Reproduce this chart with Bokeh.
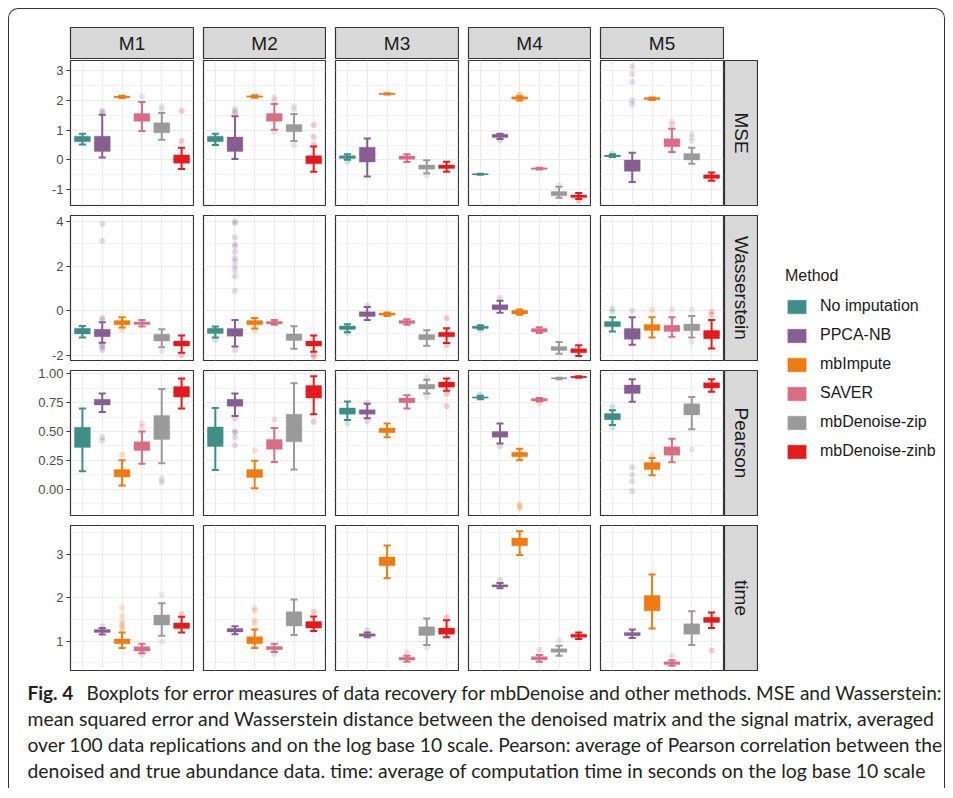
import numpy as np
from bokeh.plotting import figure
from bokeh.models import (ColumnDataSource, Range1d, FixedTicker, Grid, LinearAxis,
                          PrintfTickFormatter, Spacer, Legend, LegendItem)
from bokeh.layouts import row, column
from bokeh.core.properties import value
from bokeh.embed import file_html
from bokeh.resources import INLINE

# ---------------- data ----------------
METHODS = ["No imputation", "PPCA-NB", "mbImpute", "SAVER", "mbDenoise-zip", "mbDenoise-zinb"]
COLORS = ["#3e8e87", "#875e92", "#ef7b12", "#d86e84", "#9a9a9a", "#e41a1c"]
MODELS = ["M1", "M2", "M3", "M4", "M5"]
METRICS = ["MSE", "Wasserstein", "Pearson", "time"]

# each box: [lower whisker, Q1, median, Q3, upper whisker]
MSE_M1 = [[0.52, 0.61, 0.70, 0.80, 0.88], [0.08, 0.28, 0.55, 0.80, 1.52], [2.08, 2.10, 2.12, 2.14, 2.16],
          [0.97, 1.30, 1.42, 1.56, 1.95], [0.68, 0.91, 1.10, 1.25, 1.58], [-0.30, -0.11, 0.03, 0.17, 0.41]]
MSE_M1_OUT = [[], [1.60, 1.64], [], [2.14], [1.70, 1.80], [0.64, 1.64]]
MSE_M2 = [[0.50, 0.61, 0.70, 0.80, 0.88], [0.03, 0.28, 0.52, 0.77, 1.47], [2.09, 2.11, 2.13, 2.15, 2.17],
          [1.01, 1.30, 1.42, 1.56, 1.88], [0.64, 0.95, 1.07, 1.19, 1.54], [-0.40, -0.13, 0.00, 0.14, 0.45]]
MSE_M2_OUT = [[], [1.55, 1.62, 1.70], [], [0.94, 2.00, 2.10], [0.49, 1.70, 1.80], [0.52, 0.77, 1.17]]
MSE_M3 = [[0.01, 0.05, 0.10, 0.14, 0.19], [-0.56, -0.07, 0.20, 0.43, 0.72], [2.20, 2.21, 2.22, 2.23, 2.24],
          [-0.07, 0.02, 0.08, 0.13, 0.19], [-0.45, -0.31, -0.24, -0.17, -0.01], [-0.40, -0.29, -0.23, -0.17, -0.06]]
MSE_M3_OUT = [[-0.06], [], [], [], [-0.51], []]
MSE_M4 = [[-0.50, -0.49, -0.48, -0.47, -0.46], [0.70, 0.75, 0.80, 0.86, 0.88], [2.00, 2.04, 2.08, 2.12, 2.14],
          [-0.32, -0.31, -0.29, -0.27, -0.26], [-1.27, -1.20, -1.13, -1.06, -0.90], [-1.31, -1.26, -1.22, -1.18, -1.11]]
MSE_M4_OUT = [[], [0.66], [2.17, 2.20], [], [-0.85], [-1.37]]
MSE_M5 = [[0.10, 0.11, 0.14, 0.16, 0.19], [-0.74, -0.38, -0.20, 0.00, 0.24], [2.01, 2.03, 2.06, 2.09, 2.10],
          [0.27, 0.44, 0.58, 0.71, 1.05], [-0.13, 0.00, 0.12, 0.22, 0.41], [-0.70, -0.62, -0.56, -0.50, -0.42]]
MSE_M5_OUT = [[0.21], [1.86, 2.00, 2.62, 2.89, 3.14], [], [1.17, 1.28], [0.64, 0.75, 0.87], []]

WAS_M1 = [[-1.20, -1.04, -0.90, -0.78, -0.68], [-1.43, -1.16, -1.00, -0.83, -0.51], [-0.75, -0.63, -0.53, -0.44, -0.29],
          [-0.71, -0.62, -0.56, -0.50, -0.42], [-1.64, -1.36, -1.20, -1.05, -0.83], [-1.88, -1.58, -1.47, -1.36, -1.11]]
WAS_M1_OUT = [[], [3.89, 3.13, -0.33, -0.40, -1.50, -1.57, -1.66, -1.76], [-0.86], [], [-1.81], [-1.99]]
WAS_M2 = [[-1.20, -1.02, -0.90, -0.78, -0.71], [-1.60, -1.14, -0.97, -0.80, -0.42], [-0.80, -0.63, -0.53, -0.44, -0.33],
          [-0.63, -0.59, -0.53, -0.48, -0.42], [-1.70, -1.33, -1.18, -1.04, -0.69], [-1.84, -1.58, -1.47, -1.36, -1.11]]
WAS_M2_OUT = [[-1.31], [0.90, 1.55, 1.82, 2.00, 2.23, 2.35, 2.65, 2.90, 2.98, 3.28, 3.92, 4.00, -1.76], [-0.90], [], [],
              [-1.96, -2.06]]
WAS_M3 = [[-0.96, -0.84, -0.76, -0.68, -0.60], [-0.42, -0.26, -0.15, -0.05, 0.17], [-0.24, -0.20, -0.15, -0.10, -0.08],
          [-0.63, -0.57, -0.50, -0.44, -0.38], [-1.57, -1.30, -1.18, -1.07, -0.87], [-1.45, -1.17, -1.06, -0.96, -0.78]]
WAS_M3_OUT = [[-1.00], [0.23], [], [], [], [-0.32, -1.54]]
WAS_M4 = [[-0.83, -0.79, -0.74, -0.69, -0.65], [-0.09, 0.05, 0.16, 0.27, 0.45], [-0.18, -0.14, -0.06, 0.02, 0.06],
          [-1.00, -0.95, -0.87, -0.80, -0.74], [-1.93, -1.78, -1.69, -1.60, -1.40], [-2.03, -1.88, -1.79, -1.70, -1.55]]
WAS_M4_OUT = [[-0.86], [0.57], [], [], [], []]
WAS_M5 = [[-0.93, -0.72, -0.60, -0.48, -0.29], [-1.52, -1.28, -1.04, -0.80, -0.29], [-1.20, -0.89, -0.75, -0.62, -0.29],
          [-1.16, -0.93, -0.79, -0.65, -0.29], [-1.20, -0.90, -0.74, -0.59, -0.24], [-1.69, -1.25, -1.07, -0.89, -0.41]]
WAS_M5_OUT = [[0.09, -0.03], [0.00], [0.05], [0.05], [0.05, -1.39], [-0.03, -0.18]]

PEA_M1 = [[0.155, 0.36, 0.45, 0.536, 0.70], [0.67, 0.73, 0.755, 0.78, 0.83], [0.03, 0.105, 0.14, 0.17, 0.25],
          [0.22, 0.335, 0.37, 0.41, 0.50], [0.225, 0.43, 0.54, 0.64, 0.87], [0.70, 0.80, 0.84, 0.89, 0.96]]
PEA_M1_OUT = [[], [0.42, 0.45], [0.30], [0.54, 0.57], [0.06, 0.07, 0.095], []]
PEA_M2 = [[0.165, 0.37, 0.46, 0.54, 0.705], [0.635, 0.72, 0.75, 0.78, 0.83], [0.006, 0.10, 0.135, 0.17, 0.245],
          [0.235, 0.345, 0.39, 0.43, 0.53], [0.17, 0.41, 0.53, 0.65, 0.92], [0.65, 0.79, 0.84, 0.90, 0.98]]
PEA_M2_OUT = [[], [0.38, 0.445, 0.49, 0.50, 0.61], [0.335], [0.605], [], [0.585]]
PEA_M3 = [[0.60, 0.65, 0.68, 0.705, 0.76], [0.615, 0.65, 0.67, 0.69, 0.74], [0.45, 0.49, 0.51, 0.53, 0.57],
          [0.70, 0.75, 0.77, 0.79, 0.816], [0.83, 0.87, 0.89, 0.91, 0.95], [0.855, 0.885, 0.91, 0.93, 0.96]]
PEA_M3_OUT = [[0.57], [0.59, 0.75], [], [], [0.80, 0.97], [0.72, 0.825]]
PEA_M4 = [[0.78, 0.79, 0.796, 0.80, 0.81], [0.395, 0.45, 0.475, 0.50, 0.57], [0.25, 0.28, 0.30, 0.32, 0.35],
          [0.76, 0.764, 0.775, 0.787, 0.79], [0.955, 0.958, 0.962, 0.965, 0.968], [0.968, 0.970, 0.974, 0.977, 0.979]]
PEA_M4_OUT = [[0.82], [0.37], [-0.13, -0.15, -0.166], [0.745], [], []]
PEA_M5 = [[0.557, 0.603, 0.63, 0.656, 0.685], [0.758, 0.831, 0.87, 0.904, 0.953], [0.12, 0.17, 0.20, 0.23, 0.27],
          [0.233, 0.294, 0.33, 0.367, 0.437], [0.52, 0.644, 0.69, 0.74, 0.80], [0.845, 0.877, 0.90, 0.924, 0.953]]
PEA_M5_OUT = [[0.534, 0.715], [-0.02, 0.067, 0.125, 0.19], [0.294], [], [0.344], []]

TIME_M1 = [None, [1.15, 1.20, 1.23, 1.27, 1.30], [0.84, 0.94, 1.00, 1.05, 1.20],
           [0.72, 0.77, 0.82, 0.87, 0.94], [1.12, 1.37, 1.50, 1.60, 1.875], [1.20, 1.29, 1.36, 1.42, 1.56]]
TIME_M1_OUT = [[], [1.34], [1.27, 1.33, 1.38, 1.45, 1.59, 1.77], [0.68], [0.99, 2.07], [1.62]]
TIME_M2 = [None, [1.16, 1.21, 1.25, 1.29, 1.34], [0.84, 0.94, 1.02, 1.10, 1.27],
           [0.75, 0.80, 0.84, 0.875, 0.94], [1.14, 1.35, 1.52, 1.68, 1.96], [1.23, 1.30, 1.38, 1.45, 1.57]]
TIME_M2_OUT = [[], [], [1.41, 1.48, 1.70, 1.76], [0.70], [], [1.68]]
TIME_M3 = [None, [1.09, 1.11, 1.14, 1.17, 1.20], [2.45, 2.74, 2.85, 2.945, 3.21],
           [0.52, 0.56, 0.59, 0.625, 0.66], [0.91, 1.13, 1.23, 1.33, 1.52], [1.09, 1.16, 1.23, 1.30, 1.48]]
TIME_M3_OUT = [[], [1.25], [], [0.74], [0.86], [1.55]]
TIME_M4 = [None, [2.22, 2.25, 2.28, 2.30, 2.34], [2.99, 3.20, 3.29, 3.38, 3.54],
           [0.52, 0.57, 0.60, 0.64, 0.68], [0.66, 0.74, 0.78, 0.82, 0.89], [1.05, 1.09, 1.12, 1.16, 1.20]]
TIME_M4_OUT = [[], [2.41], [], [0.80], [1.02], []]
TIME_M5 = [None, [1.07, 1.12, 1.16, 1.20, 1.27], [1.29, 1.70, 1.88, 2.05, 2.54],
           [0.43, 0.46, 0.49, 0.52, 0.555], [0.91, 1.16, 1.28, 1.40, 1.69], [1.30, 1.43, 1.49, 1.55, 1.66]]
TIME_M5_OUT = [[], [], [], [0.66], [], [0.78]]

# axis settings per metric row
Y_LIMITS = {"MSE": (-1.53, 3.34), "Wasserstein": (-2.23, 4.27), "Pearson": (-0.23, 1.03), "time": (0.32, 3.67)}
Y_TICKS = {"MSE": [-1, 0, 1, 2, 3], "Wasserstein": [-2, 0, 2, 4], "Pearson": [0, 0.25, 0.5, 0.75, 1.0], "time": [1, 2, 3]}
Y_MINOR = {"MSE": [-1.5, -0.5, 0.5, 1.5, 2.5], "Wasserstein": [-1, 1, 3],
           "Pearson": [-0.125, 0.125, 0.375, 0.625, 0.875], "time": [0.5, 1.5, 2.5, 3.5]}
Y_FMT = {"MSE": "%d", "Wasserstein": "%d", "Pearson": "%.2f", "time": "%d"}

CAPTION_BOLD = "Fig. 4"
CAPTION_LINES = [
    "Boxplots for error measures of data recovery for mbDenoise and other methods. MSE and Wasserstein:",
    "mean squared error and Wasserstein distance between the denoised matrix and the signal matrix, averaged",
    "over 100 data replications and on the log base 10 scale. Pearson: average of Pearson correlation between the",
    "denoised and true abundance data. time: average of computation time in seconds on the log base 10 scale",
]

DATA = {
    "MSE": [(MSE_M1, MSE_M1_OUT), (MSE_M2, MSE_M2_OUT), (MSE_M3, MSE_M3_OUT), (MSE_M4, MSE_M4_OUT), (MSE_M5, MSE_M5_OUT)],
    "Wasserstein": [(WAS_M1, WAS_M1_OUT), (WAS_M2, WAS_M2_OUT), (WAS_M3, WAS_M3_OUT), (WAS_M4, WAS_M4_OUT), (WAS_M5, WAS_M5_OUT)],
    "Pearson": [(PEA_M1, PEA_M1_OUT), (PEA_M2, PEA_M2_OUT), (PEA_M3, PEA_M3_OUT), (PEA_M4, PEA_M4_OUT), (PEA_M5, PEA_M5_OUT)],
    "time": [(TIME_M1, TIME_M1_OUT), (TIME_M2, TIME_M2_OUT), (TIME_M3, TIME_M3_OUT), (TIME_M4, TIME_M4_OUT), (TIME_M5, TIME_M5_OUT)],
}

# ---------------- styling / geometry ----------------
FONT = "Liberation Sans"
FRAME_W = [123, 122, 123, 122, 123]
FRAME_H = 145
GAP = 8
LEFT_AXIS = 61
BOX_W = 0.8
CAP_W = 0.36
# per-row top / bottom borders (room for tick labels) and the spacer before each row
ROW_TB = {"MSE": (1, 1), "Wasserstein": (3, 4), "Pearson": (4, 1), "time": (1, 1)}
ROW_GAP = {"Wasserstein": 6, "Pearson": 2, "time": 8}


def clean(p):
    p.center = [c for c in p.center if not isinstance(c, Grid)]
    return p


def base_fig(**kw):
    return clean(figure(title=None, x_axis_location=None, y_axis_location=None, toolbar_location=None,
                        output_backend="svg", border_fill_color="white", **kw))


def panel(metric, j, stats, outs):
    first = j == 0
    t, b = ROW_TB[metric]
    p = base_fig(frame_width=FRAME_W[j], frame_height=FRAME_H,
                 x_range=Range1d(0.4, 6.6), y_range=Range1d(*Y_LIMITS[metric]),
                 min_border_left=LEFT_AXIS if first else 1, min_border_right=1,
                 min_border_top=t, min_border_bottom=b,
                 background_fill_color="white", outline_line_color="#333333", outline_line_width=1.2)
    p.add_layout(Grid(dimension=0, ticker=FixedTicker(ticks=list(range(1, 7))),
                      grid_line_color="#ebebeb", grid_line_width=1.2))
    p.add_layout(Grid(dimension=1, ticker=FixedTicker(ticks=Y_TICKS[metric], minor_ticks=Y_MINOR[metric]),
                      grid_line_color="#ebebeb", grid_line_width=1.2,
                      minor_grid_line_color="#ebebeb", minor_grid_line_width=0.6))
    if first:
        ax = LinearAxis(ticker=FixedTicker(ticks=Y_TICKS[metric]),
                        formatter=PrintfTickFormatter(format=Y_FMT[metric]),
                        axis_line_color=None, major_tick_line_color="#333333", major_tick_line_width=1.2,
                        major_tick_out=4, major_tick_in=0, minor_tick_line_color=None,
                        major_label_text_font_size="13px", major_label_text_color="#4d4d4d",
                        major_label_text_font=FONT, major_label_standoff=3)
        p.add_layout(ax, "left")

    pos = np.arange(1, len(METHODS) + 1, dtype=float)
    keep = [i for i, s in enumerate(stats) if s is not None]
    arr = np.array([stats[i] for i in keep], dtype=float)
    x = pos[keep]
    src = ColumnDataSource(dict(
        x=x, lo=arr[:, 0], q1=arr[:, 1], med=arr[:, 2], q3=arr[:, 3], hi=arr[:, 4],
        xl=x - CAP_W / 2, xr=x + CAP_W / 2, bl=x - BOX_W / 2, br=x + BOX_W / 2,
        c=[COLORS[i] for i in keep]))
    p.segment(x0="x", y0="lo", x1="x", y1="hi", line_color="c", line_width=2, source=src)
    p.segment(x0="xl", y0="lo", x1="xr", y1="lo", line_color="c", line_width=2, source=src)
    p.segment(x0="xl", y0="hi", x1="xr", y1="hi", line_color="c", line_width=2, source=src)
    p.vbar(x="x", width=BOX_W, bottom="q1", top="q3", fill_color="c", line_color="c",
           line_alpha=0.35, line_width=1, source=src)
    p.segment(x0="bl", y0="med", x1="br", y1="med", line_color="c", line_width=1.5, source=src)

    ox, oy, oc = [], [], []
    for i, vals in enumerate(outs):
        for v in vals:
            ox.append(pos[i]); oy.append(v); oc.append(COLORS[i])
    if ox:
        osrc = ColumnDataSource(dict(x=ox, y=oy, c=oc))
        p.scatter(x="x", y="y", size=6, fill_color="c", fill_alpha=0.22, line_color=None, source=osrc)
    return p


def strip_top(label, j):
    s = base_fig(frame_width=FRAME_W[j], frame_height=32, x_range=Range1d(0, 1), y_range=Range1d(0, 1),
                 min_border_left=1, min_border_right=1, min_border_top=1, min_border_bottom=0,
                 background_fill_color="#d9d9d9", outline_line_color="#333333", outline_line_width=1.2)
    s.text(x=[0.5], y=[0.5], text=[label], text_align="center", text_baseline="middle",
           text_font=value(FONT), text_font_size="19px", text_color="#1a1a1a")
    return s


def strip_right(label):
    t, b = ROW_TB[label]
    s = base_fig(frame_width=33, frame_height=FRAME_H, x_range=Range1d(0, 1), y_range=Range1d(0, 1),
                 min_border_left=0, min_border_right=1, min_border_top=t, min_border_bottom=b,
                 background_fill_color="#d9d9d9", outline_line_color="#333333", outline_line_width=1.2)
    s.text(x=[0.5], y=[0.5], text=[label], text_align="center", text_baseline="middle", angle=-np.pi / 2,
           text_font=value(FONT), text_font_size="19px", text_color="#1a1a1a")
    return s


# top strip row
top_children = [Spacer(width=LEFT_AXIS - 1, height=33)]
for j, m in enumerate(MODELS):
    if j > 0:
        top_children.append(Spacer(width=GAP, height=33))
    top_children.append(strip_top(m, j))
grid_rows = [row(top_children)]

for r, metric in enumerate(METRICS):
    if r > 0:
        grid_rows.append(Spacer(width=10, height=ROW_GAP[metric]))
    t, b = ROW_TB[metric]
    children = []
    for j, (stats, outs) in enumerate(DATA[metric]):
        if j > 0:
            children.append(Spacer(width=GAP, height=FRAME_H + t + b))
        children.append(panel(metric, j, stats, outs))
    children.append(strip_right(metric))
    grid_rows.append(row(children))
grid = column(grid_rows)

# legend
lg = base_fig(width=186, height=215, x_range=Range1d(0, 1), y_range=Range1d(0, 1),
              min_border_left=27, min_border_right=0, min_border_top=0, min_border_bottom=0,
              outline_line_color=None, background_fill_color="white")
items = []
for mname, col in zip(METHODS, COLORS):
    # a single mark placed outside the visible range: only its legend key is shown
    rr = lg.vbar(x=[5], bottom=[5], top=[6], width=0.1, fill_color=col, line_color=col, line_alpha=0.35)
    items.append(LegendItem(label=mname, renderers=[rr]))
leg = Legend(items=items, location="top_left", title="Method", margin=0, padding=0,
             title_text_font=FONT, title_text_font_size="16px", title_text_font_style="normal",
             title_text_color="#1a1a1a", title_standoff=12,
             label_text_font=FONT, label_text_font_size="16px", label_text_color="#1a1a1a",
             label_standoff=12, glyph_width=23, glyph_height=17, label_height=17, spacing=11,
             border_line_color=None, background_fill_alpha=0)
lg.add_layout(leg)
legend_col = column([Spacer(width=186, height=241), lg])

# caption (page coordinates)
cap = base_fig(width=935, height=117, x_range=Range1d(9, 944), y_range=Range1d(788, 671),
               min_border=0, outline_line_color=None, background_fill_color="white")
CAP_FONT = "Lato"
cap.text(x=[27], y=[692], text=[CAPTION_BOLD], text_font=value(CAP_FONT), text_font_style="bold",
         text_font_size="19px", text_color="#231f20", text_baseline="middle")
cap_src = ColumnDataSource(dict(x=[86, 27, 27, 27], y=[692, 718, 744, 770], t=CAPTION_LINES,
                                fs=["19px", "19.4px", "19.2px", "19.4px"]))
cap.text(x="x", y="y", text="t", text_font=value(CAP_FONT), text_font_size="fs",
         text_color="#231f20", text_baseline="middle", source=cap_src)

root = column([Spacer(width=935, height=17), row([grid, legend_col]), cap],
              styles={"border": "1px solid #333333", "border-bottom": "none",
                      "border-top-left-radius": "10px", "border-top-right-radius": "10px"})
page = column([Spacer(width=10, height=8), row([Spacer(width=8, height=10), root])])

open("out.html", "w").write(file_html(page, INLINE))
